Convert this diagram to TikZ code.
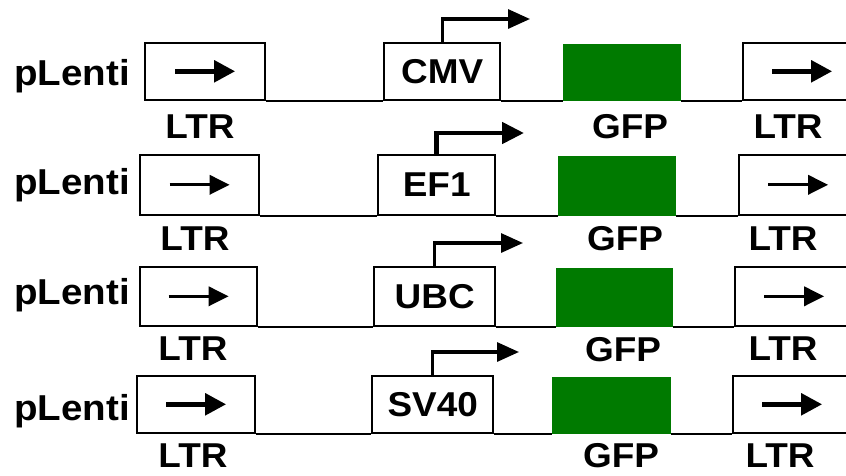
\documentclass[tikz,border=0pt]{standalone}
\usepackage{fontspec}
\setmainfont{Liberation Sans}[FakeStretch=1.07]
\usetikzlibrary{arrows.meta}
\definecolor{gfpgreen}{RGB}{0,122,0}

\begin{document}
\begin{tikzpicture}[x=1pt,y=-1pt,
  box/.style={draw, line width=2.4pt, inner sep=0pt, anchor=south west, minimum height=57pt},
  ltrbox/.style={box, minimum width=118pt},
  prombox/.style={box, font=\bfseries\fontsize{34.5}{36}\selectfont},
  gfpbox/.style={fill=gfpgreen, inner sep=0pt, anchor=south west, minimum width=118pt, minimum height=57pt},
  fatarrow/.style={path picture={\draw[line width=5pt,-{Triangle[length=21pt,width=21pt]}]
      ([xshift=-30pt]path picture bounding box.center) -- ([xshift=30pt]path picture bounding box.center);}},
  thinarrow/.style={path picture={\draw[line width=3.3pt,-{Triangle[length=20pt,width=19pt]}]
      ([xshift=-30pt]path picture bounding box.center) -- ([xshift=30pt]path picture bounding box.center);}},
  backbone/.style={line width=2.4pt},
  tss/.style={line width=3.2pt, -{Triangle[length=22pt,width=19pt]}},
  tssfat/.style={tss, line width=4.8pt, -{Triangle[length=22pt,width=21pt]}},
  lab/.style={font=\bfseries\fontsize{34.5}{36}\selectfont, anchor=base, inner sep=0pt},
  rowlab/.style={font=\bfseries\fontsize{36}{38}\selectfont, anchor=base west, inner sep=0pt}
]
\path[use as bounding box, clip] (0,0) rectangle (846,475);
\fill[white] (0,0) rectangle (846,475);

% ---- construct 1: CMV ----
\node[rowlab] (pl1) at (14,85) {pLenti};
\node[ltrbox, fatarrow, minimum width=120pt] (la1) at (144,101) {};
\node[prombox, minimum width=116pt] (pr1) at (383,101) {CMV};
\node[gfpbox] (gf1) at (563,101) {};
\node[ltrbox, fatarrow] (lb1) at (742,101) {};
\draw[backbone] (la1.south east) -- (pr1.south west);
\draw[backbone] (pr1.south east) -- (gf1.south west);
\draw[backbone] (gf1.south east) -- (lb1.south west);
\coordinate (tip1) at (530,19);
\draw[tss] (pr1.north) |- (tip1);
\node[lab] (ta1) at (200,138) {LTR};
\node[lab] (tg1) at (630,138) {GFP};
\node[lab] (tb1) at (788,138) {LTR};

% ---- construct 2: EF1 ----
\node[rowlab] (pl2) at (14,194) {pLenti};
\node[ltrbox, thinarrow, minimum width=119pt, minimum height=60pt] (la2) at (139,216) {};
\node[prombox, minimum width=117pt, minimum height=60pt] (pr2) at (377,216) {EF1};
\node[gfpbox, minimum height=60pt] (gf2) at (558,216) {};
\node[ltrbox, thinarrow, minimum height=60pt] (lb2) at (738,216) {};
\draw[backbone] (la2.south east) -- (pr2.south west);
\draw[backbone] (pr2.south east) -- (gf2.south west);
\draw[backbone] (gf2.south east) -- (lb2.south west);
\coordinate (tip2) at (524,133);
\draw[tssfat] (pr2.north) |- (tip2);
\node[lab] (ta2) at (195,250) {LTR};
\node[lab] (tg2) at (625,250) {GFP};
\node[lab] (tb2) at (783,250) {LTR};

% ---- construct 3: UBC ----
\node[rowlab] (pl3) at (14,304) {pLenti};
\node[ltrbox, thinarrow, minimum width=117pt, minimum height=59pt] (la3) at (139,327) {};
\node[prombox, minimum width=121pt, minimum height=59pt] (pr3) at (373,327) {UBC};
\node[gfpbox, minimum width=117pt, minimum height=59pt] (gf3) at (556,327) {};
\node[ltrbox, thinarrow, minimum height=59pt] (lb3) at (734,327) {};
\draw[backbone] (la3.south east) -- (pr3.south west);
\draw[backbone] (pr3.south east) -- (gf3.south west);
\draw[backbone] (gf3.south east) -- (lb3.south west);
\coordinate (tip3) at (523,243);
\draw[tss] (pr3.north) |- (tip3);
\node[lab] (ta3) at (193,360) {LTR};
\node[lab] (tg3) at (623,361) {GFP};
\node[lab] (tb3) at (783,360) {LTR};

% ---- construct 4: SV40 ----
\node[rowlab] (pl4) at (14,420) {pLenti};
\node[ltrbox, fatarrow] (la4) at (136,434) {};
\node[prombox, minimum width=121pt] (pr4) at (371,434) {SV40};
\node[gfpbox, minimum width=119pt] (gf4) at (552,434) {};
\node[ltrbox, fatarrow] (lb4) at (732,434) {};
\draw[backbone] (la4.south east) -- (pr4.south west);
\draw[backbone] (pr4.south east) -- (gf4.south west);
\draw[backbone] (gf4.south east) -- (lb4.south west);
\coordinate (tip4) at (519,352);
\draw[tss] (pr4.north) |- (tip4);
\node[lab] (ta4) at (193,467) {LTR};
\node[lab] (tg4) at (621,467) {GFP};
\node[lab] (tb4) at (780,467) {LTR};
\end{tikzpicture}
\end{document}
